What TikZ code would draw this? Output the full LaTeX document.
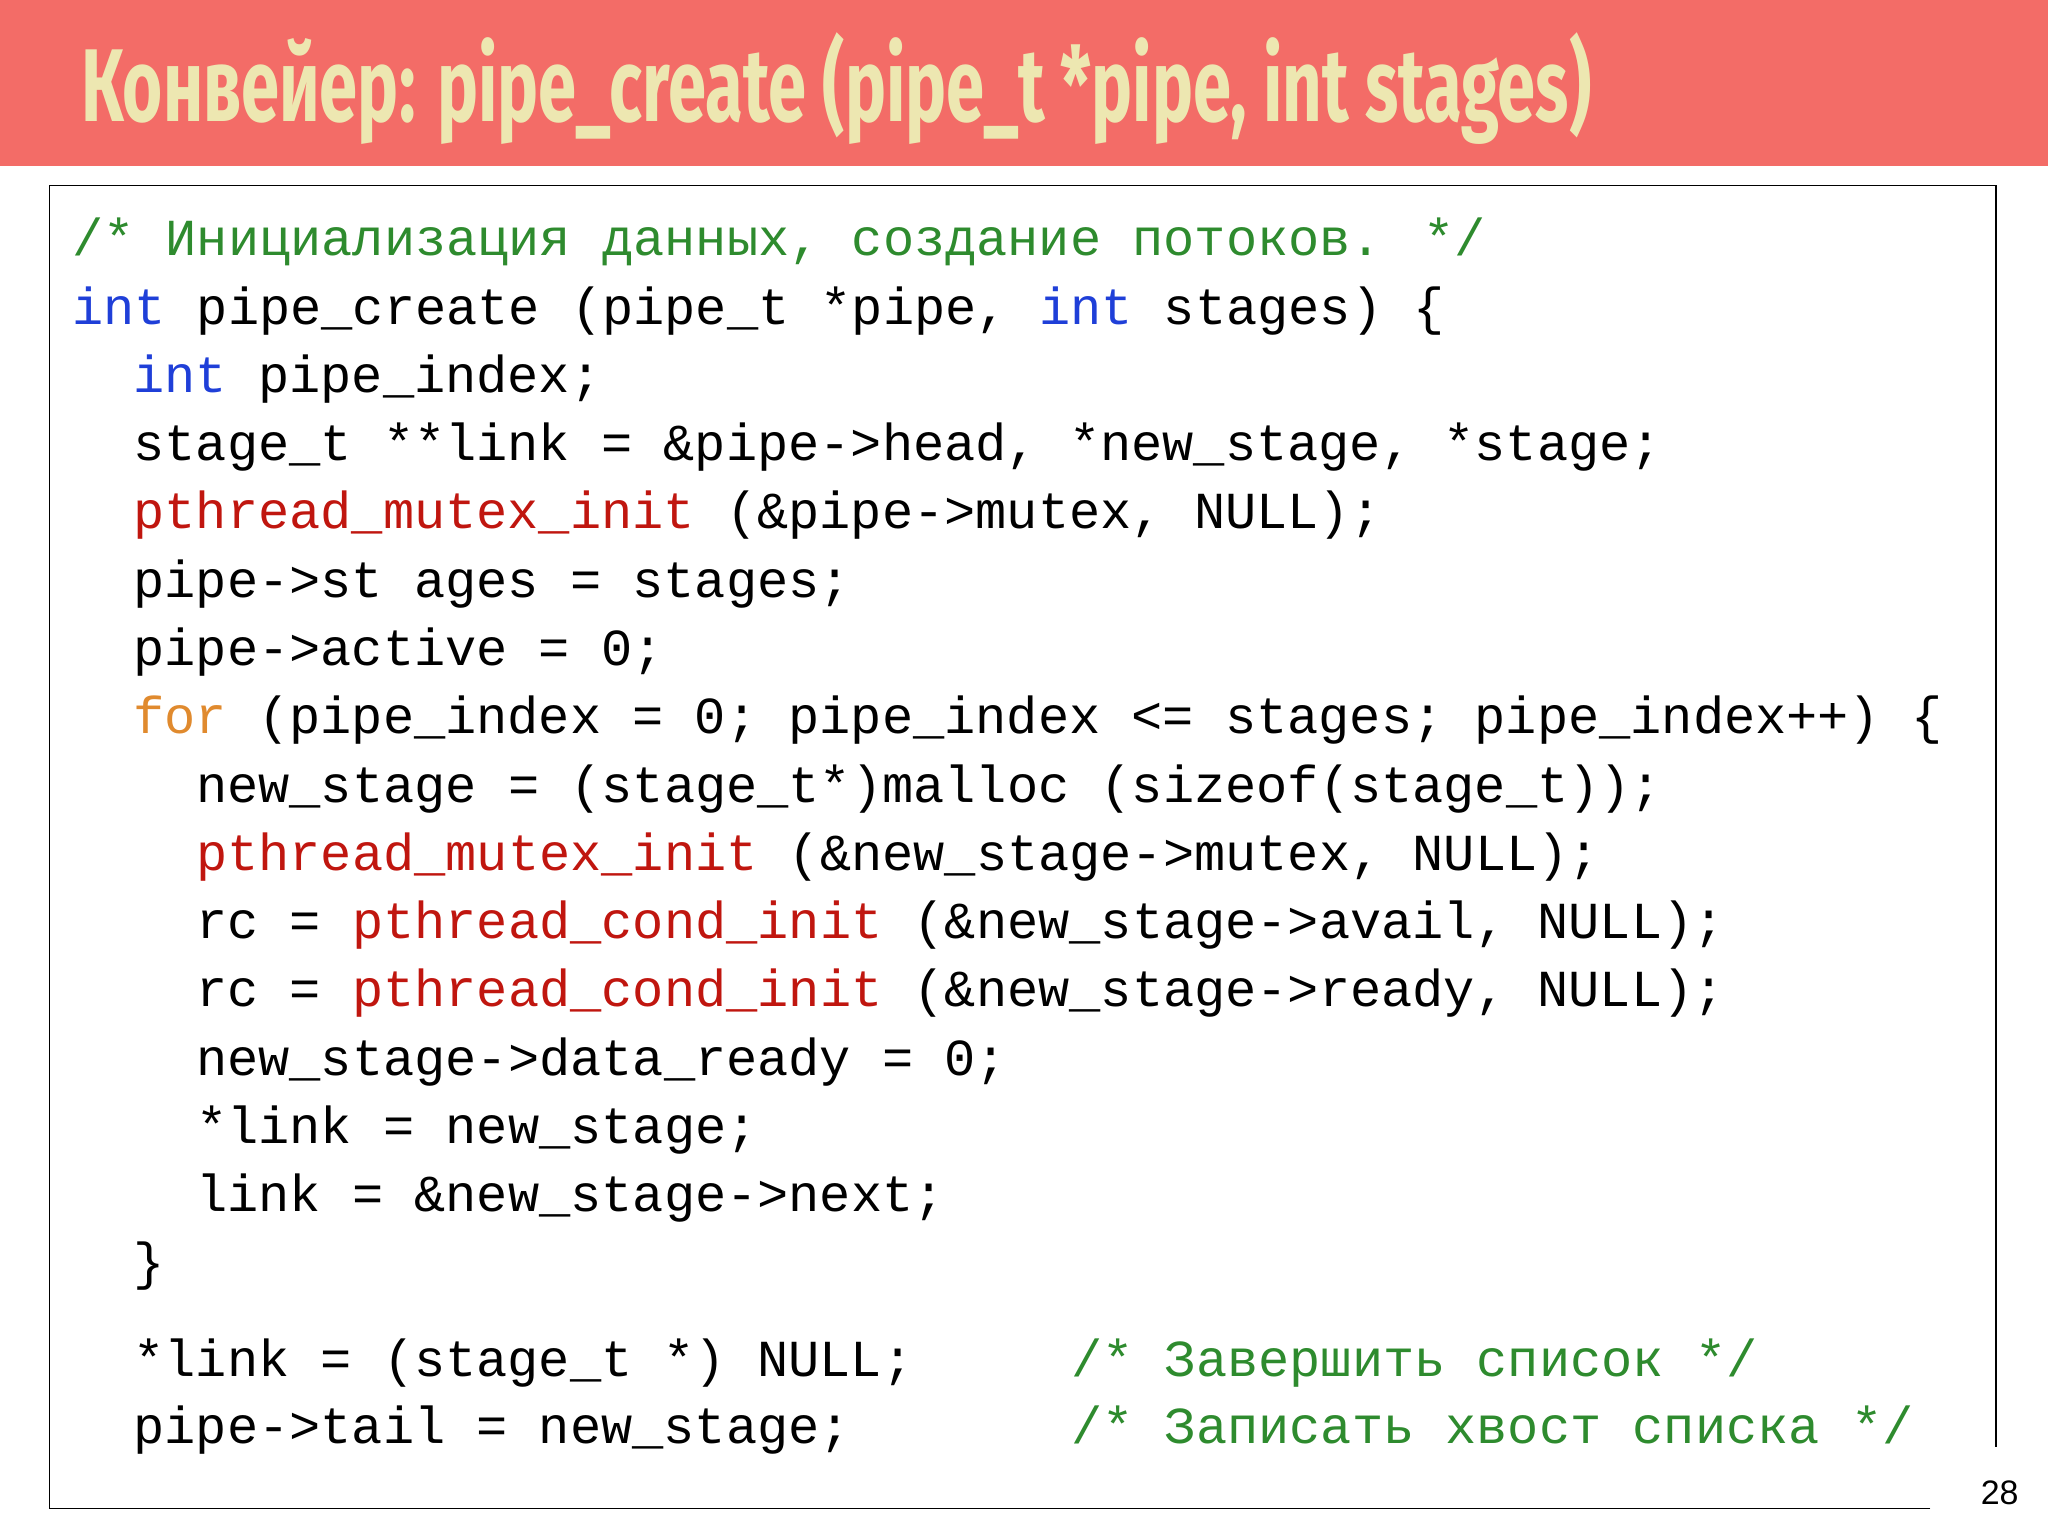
\documentclass[tikz,border=0pt]{standalone}
\usepackage{fontspec}
\newfontfamily\codefont{Liberation Mono}
\newfontfamily\titlefont{Fira Sans}
\newfontfamily\numfont{Liberation Sans}
\definecolor{titlebg}{HTML}{F36C67}
\definecolor{titlefg}{HTML}{EDE7B1}
\definecolor{kw}{HTML}{1F3FD8}
\definecolor{fn}{HTML}{C0160F}
\definecolor{fo}{HTML}{E08A2E}
\definecolor{cm}{HTML}{2E8B2E}
\newcommand{\Kw}[1]{\textcolor{kw}{#1}}
\newcommand{\Fn}[1]{\textcolor{fn}{#1}}
\newcommand{\Fo}[1]{\textcolor{fo}{#1}}
\begin{document}
\begin{tikzpicture}[x=1pt,y=-1pt,
  code/.style={anchor=west,inner sep=0pt,text height=30pt,text depth=9pt,
    font=\codefont\fontsize{39.8}{48}\selectfont},
  cmt/.style={code,text=cm}]
\useasboundingbox (0,0) rectangle (1568,1176);
\fill[titlebg] (0,0) rectangle (1568,127);
\node[anchor=west,inner sep=0pt,text=titlefg] (title) at (62,68)
  {\resizebox{1156pt}{68pt}{\titlefont\bfseries Конвейер: pipe\_create (pipe\_t *pipe, int stages)}};
\draw[line width=1.2pt] (1478,1155) -- (38,1155) -- (38,142) -- (1528,142) -- (1528,1108);
\node[anchor=center,font=\numfont\fontsize{26}{30}\selectfont] (num) at (1531,1143) {28};
\def\a{55}\def\b{102}\def\c{150}
\node[cmt] (l1) at (\a,185) {/* Инициализация данных, создание потоков. */};
\node[code] (l2) at (\a,238) {\Kw{int} pipe\_create (pipe\_t *pipe, \Kw{int} stages) \{};
\node[code] (l3) at (\b,290) {\Kw{int} pipe\_index;};
\node[code] (l4) at (\b,342) {stage\_t **link = \&pipe->head, *new\_stage, *stage;};
\node[code] (l5) at (\b,394) {\Fn{pthread\_mutex\_init} (\&pipe->mutex, NULL);};
\node[code] (l6) at (\b,447) {pipe->st ages = stages;};
\node[code] (l7) at (\b,499) {pipe->active = 0;};
\node[code] (l8) at (\b,551) {\Fo{for} (pipe\_index = 0; pipe\_index <= stages; pipe\_index++) \{};
\node[code] (l9) at (\c,604) {new\_stage = (stage\_t*)malloc (sizeof(stage\_t));};
\node[code] (l10) at (\c,656) {\Fn{pthread\_mutex\_init} (\&new\_stage->mutex, NULL);};
\node[code] (l11) at (\c,708) {rc = \Fn{pthread\_cond\_init} (\&new\_stage->avail, NULL);};
\node[code] (l12) at (\c,760) {rc = \Fn{pthread\_cond\_init} (\&new\_stage->ready, NULL);};
\node[code] (l13) at (\c,813) {new\_stage->data\_ready = 0;};
\node[code] (l14) at (\c,865) {*link = new\_stage;};
\node[code] (l15) at (\c,917) {link = \&new\_stage->next;};
\node[code] (l16) at (\b,969) {\}};
\node[code] (l17) at (\b,1043) {*link = (stage\_t *) NULL;};
\node[cmt] (c17) at (820,1043) {/* Завершить список */};
\node[code] (l18) at (\b,1095) {pipe->tail = new\_stage;};
\node[cmt] (c18) at (820,1095) {/* Записать хвост списка */};
\end{tikzpicture}
\end{document}
